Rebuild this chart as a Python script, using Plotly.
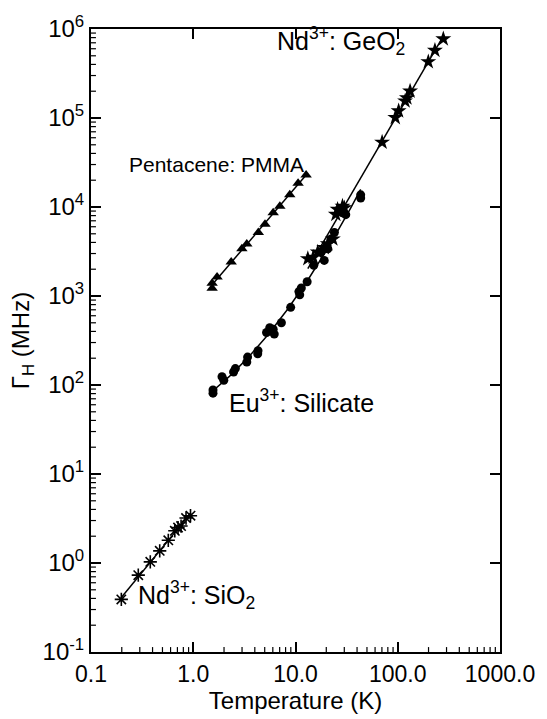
import numpy as np
import plotly.graph_objects as go

# ---- data ----
sio2_T = [0.198, 0.29, 0.38, 0.47, 0.57, 0.66, 0.71, 0.76, 0.85, 0.94]
sio2_G = [0.39, 0.73, 1.03, 1.37, 1.8, 2.3, 2.5, 2.6, 3.2, 3.4]

pmma_T = [1.53, 1.53, 1.71, 2.35, 2.99, 3.34, 4.33, 5.03, 6.05, 7.03, 8.79, 10.6, 12.7]
pmma_G = [1390, 1225, 1640, 2410, 3390, 3850, 5170, 6400, 8600, 10200, 13700, 18500, 22900]

eu_T = [1.56, 1.56, 1.99, 1.91, 2.48, 2.58, 3.34, 3.4, 4.27, 4.3, 5.21, 6.05, 6.2, 5.6, 7.28,
        8.97, 11.0, 10.8, 11.4, 13.0, 15.1, 17.8, 19.1, 20.7, 22.3, 24.0, 28.8, 31.0, 43.4, 43.4]
eu_G = [81, 88, 113, 124, 140, 153, 181, 206, 224, 243, 389, 423, 373, 441, 500,
        746, 1030, 1120, 1230, 1445, 2210, 3110, 2510, 3390, 4370, 5170, 8610, 8200, 12600, 13700]

geo2_T = [13.2, 14.9, 16.5, 19.1, 20.7, 23.2, 24.8, 25.8, 28.8, 30.0, 70.3, 94.6, 102, 118,
          123, 132, 199, 231, 279]
geo2_G = [2620, 2720, 3110, 3500, 3850, 4370, 8260, 9380, 10200, 9800, 53400, 101000, 120000,
          155000, 168000, 200000, 428000, 575000, 774000]

x_tickvals = [0.1, 1, 10, 100, 1000]
x_ticktext = ["0.1", "1.0", "10.0", "100.0", "1000.0"]
y_tickvals = [1e-1, 1e0, 1e1, 1e2, 1e3, 1e4, 1e5, 1e6]
y_ticktext = ["10<sup>-1</sup>", "10<sup>0</sup>", "10<sup>1</sup>", "10<sup>2</sup>",
              "10<sup>3</sup>", "10<sup>4</sup>", "10<sup>5</sup>", "10<sup>6</sup>"]


def minor_vals(decades):
    return [m * d for d in decades[:-1] for m in range(2, 10)]


def fit_line(T, G, deg):
    lx, ly = np.log10(T), np.log10(G)
    p = np.polyfit(lx, ly, deg)
    xs = np.linspace(lx.min(), lx.max(), 100)
    return 10 ** xs, 10 ** np.polyval(p, xs)


FONT = "Liberation Sans, Arial, sans-serif"
W, H = 547, 719
ML, MR, MT, MB = 91, 43, 20, 66
PW, PH = W - ML - MR, H - MT - MB
xr = [-1, 3]
yr = [-1, 6]

fig = go.Figure()

for T, G, deg in [(sio2_T, sio2_G, 1), (pmma_T, pmma_G, 1), (eu_T, eu_G, 2), (geo2_T, geo2_G, 1)]:
    lx, ly = fit_line(T, G, deg)
    fig.add_trace(go.Scatter(x=lx, y=ly, mode="lines", line=dict(color="black", width=1.5),
                             hoverinfo="skip", showlegend=False))

fig.add_trace(go.Scatter(x=sio2_T, y=sio2_G, mode="markers", showlegend=False,
                         marker=dict(symbol="asterisk-open", size=11, color="black",
                                     line=dict(color="black", width=1.6))))
fig.add_trace(go.Scatter(x=pmma_T, y=pmma_G, mode="markers", showlegend=False,
                         marker=dict(symbol="triangle-up", size=10, color="black")))
fig.add_trace(go.Scatter(x=eu_T, y=eu_G, mode="markers", showlegend=False,
                         marker=dict(symbol="circle", size=9, color="black")))
fig.add_trace(go.Scatter(x=geo2_T, y=geo2_G, mode="markers", showlegend=False,
                         marker=dict(symbol="star", size=12, color="black")))

# minor ticks (bottom and left, inside, ~5 px) as short line segments at axis edges
y_base, y_tip = 10 ** yr[0], 10 ** (yr[0] + 5 * (yr[1] - yr[0]) / PH)
x_base, x_tip = 10 ** xr[0], 10 ** (xr[0] + 5 * (xr[1] - xr[0]) / PW)
mx, my = [], []
for v in minor_vals(x_tickvals):
    mx += [v, v, None]
    my += [y_base, y_tip, None]
for v in minor_vals(y_tickvals):
    mx += [x_base, x_tip, None]
    my += [v, v, None]
fig.add_trace(go.Scatter(x=mx, y=my, mode="lines", line=dict(color="black", width=1.2),
                         hoverinfo="skip", showlegend=False, cliponaxis=False))

common = dict(ticks="inside", ticklen=10, tickwidth=1.6, tickcolor="black", mirror="ticks",
              showline=True, linecolor="black", linewidth=2, showgrid=False, zeroline=False)

fig.update_layout(
    width=W, height=H,
    margin=dict(l=ML, r=MR, t=MT, b=MB),
    paper_bgcolor="white", plot_bgcolor="white",
    font=dict(family=FONT, color="black", size=22),
    xaxis=dict(type="log", range=xr, tickmode="array", tickvals=x_tickvals, ticktext=x_ticktext,
               tickfont=dict(size=23),
               title=dict(text="Temperature (K)", font=dict(size=24), standoff=4), **common),
    yaxis=dict(type="log", range=yr, tickmode="array", tickvals=y_tickvals, ticktext=y_ticktext,
               tickfont=dict(size=24),
               title=dict(text="Γ<sub>H</sub> (MHz)", font=dict(size=24), standoff=6), **common),
)

ann = [
    ("Nd<sup>3+</sup>: GeO<sub>2</sub>", 6.3, 5.867, 25),
    ("Pentacene: PMMA", 0.223, 4.473, 21),
    ("Eu<sup>3+</sup>: Silicate", 2.12, 1.818, 25),
    ("Nd<sup>3+</sup>: SiO<sub>2</sub>", 0.277, -0.36, 25),
]
for text, x, ly, size in ann:
    fig.add_annotation(x=np.log10(x), y=ly, xref="x", yref="y", text=text, showarrow=False,
                       xanchor="left", yanchor="middle", font=dict(size=size, color="black"))

fig.write_html("out.html")
